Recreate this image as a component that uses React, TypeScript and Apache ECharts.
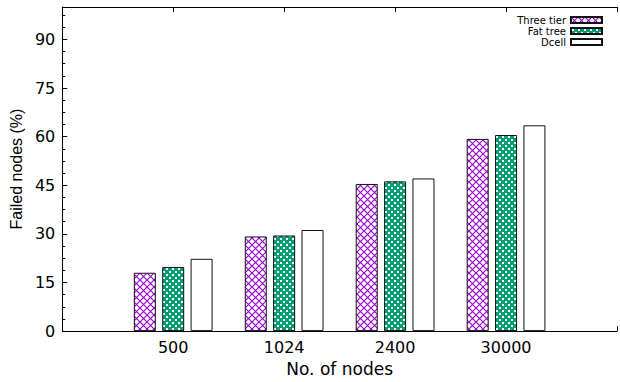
import React, { useEffect, useRef } from "react";
import * as echarts from "echarts";

const nodeCounts = ["500", "1024", "2400", "30000"];
const seriesNames = ["Three tier", "Fat tree", "Dcell"];
const threeTier = [18, 29.2, 45.4, 59.3];
const fatTree = [19.8, 29.5, 46.2, 60.5];
const dcell = [22.3, 31.2, 47.1, 63.5];
const yMin = 0;
const yMax = 100;
const yStep = 15;

function purplePattern(): HTMLCanvasElement {
  const c = document.createElement("canvas");
  c.width = 7;
  c.height = 7;
  const g = c.getContext("2d")!;
  g.fillStyle = "#ffffff";
  g.fillRect(0, 0, 7, 7);
  g.strokeStyle = "#9400d3";
  g.lineWidth = 1.1;
  g.beginPath();
  g.moveTo(-1, -1);
  g.lineTo(8, 8);
  g.moveTo(8, -1);
  g.lineTo(-1, 8);
  g.stroke();
  return c;
}

function greenPattern(): HTMLCanvasElement {
  const c = document.createElement("canvas");
  c.width = 6;
  c.height = 6;
  const g = c.getContext("2d")!;
  g.fillStyle = "#009e73";
  g.fillRect(0, 0, 6, 6);
  g.fillStyle = "#ffffff";
  g.fillRect(1, 1, 2, 2);
  g.fillRect(4, 4, 2, 2);
  return c;
}

export default function App() {
  const ref = useRef<HTMLDivElement>(null);
  useEffect(() => {
    if (!ref.current) return;
    const chart = echarts.init(ref.current, undefined, { renderer: "svg" });
    const pad = (arr: number[]) => ["-", ...arr, "-"];
    const cats = ["", ...nodeCounts, ""];
    const pc = purplePattern();
    const gc = greenPattern();
    const fills: any[] = [
      { image: pc, repeat: "repeat", imageWidth: 7, imageHeight: 7 },
      { image: gc, repeat: "repeat", imageWidth: 6, imageHeight: 6 },
      "#ffffff",
    ];
    const values = [threeTier, fatTree, dcell];
    const tickFont = { fontFamily: "DejaVu Sans", fontSize: 16, color: "#000" };
    chart.setOption({
      animation: false,
      backgroundColor: "#fff",
      grid: { left: 60, top: 7, bottom: 42, right: -3.5, containLabel: false },
      legend: {
        orient: "vertical",
        right: 12,
        top: 10,
        align: "right",
        icon: "rect",
        itemWidth: 31,
        itemHeight: 6,
        itemGap: 1,
        textStyle: { fontFamily: "DejaVu Sans", fontSize: 10, color: "#000" },
        data: seriesNames,
      },
      xAxis: [
        {
          type: "category",
          data: cats,
          boundaryGap: false,
          position: "bottom",
          axisLine: { lineStyle: { color: "#000", width: 1 } },
          axisTick: { inside: true, length: 5, lineStyle: { color: "#000" } },
          axisLabel: { ...tickFont, margin: 8 },
          name: "No. of nodes",
          nameLocation: "middle",
          nameGap: 24,
          nameTextStyle: { fontFamily: "DejaVu Sans", fontSize: 17, color: "#000" },
          splitLine: { show: false },
        },
        {
          type: "category",
          data: cats,
          boundaryGap: false,
          position: "top",
          axisLine: { lineStyle: { color: "#000", width: 1 } },
          axisTick: { inside: true, length: 5, lineStyle: { color: "#000" } },
          axisLabel: { show: false },
          splitLine: { show: false },
        },
      ],
      yAxis: {
        type: "value",
        min: yMin,
        max: yMax,
        interval: yStep,
        axisLine: { show: true, lineStyle: { color: "#000", width: 1 } },
        axisTick: { show: true, inside: true, length: 5, lineStyle: { color: "#000" } },
        minorTick: { show: true, splitNumber: 4, length: 3, lineStyle: { color: "#000" } },
        axisLabel: { ...tickFont, margin: 7, showMaxLabel: false },
        splitLine: { show: false },
        name: "Failed nodes (%)",
        nameLocation: "middle",
        nameGap: 34,
        nameTextStyle: { fontFamily: "Liberation Sans", fontSize: 16, color: "#000" },
      },
      series: seriesNames.map((name, i) => ({
        name,
        type: "bar",
        data: pad(values[i]),
        barWidth: 22,
        barGap: "29%",
        itemStyle: { color: fills[i], borderColor: "#111", borderWidth: 1 },
      })),
    });
    return () => chart.dispose();
  }, []);
  return (
    <div
      ref={ref}
      style={{ position: "absolute", left: 0, top: 0, width: 620, height: 382 }}
    />
  );
}
